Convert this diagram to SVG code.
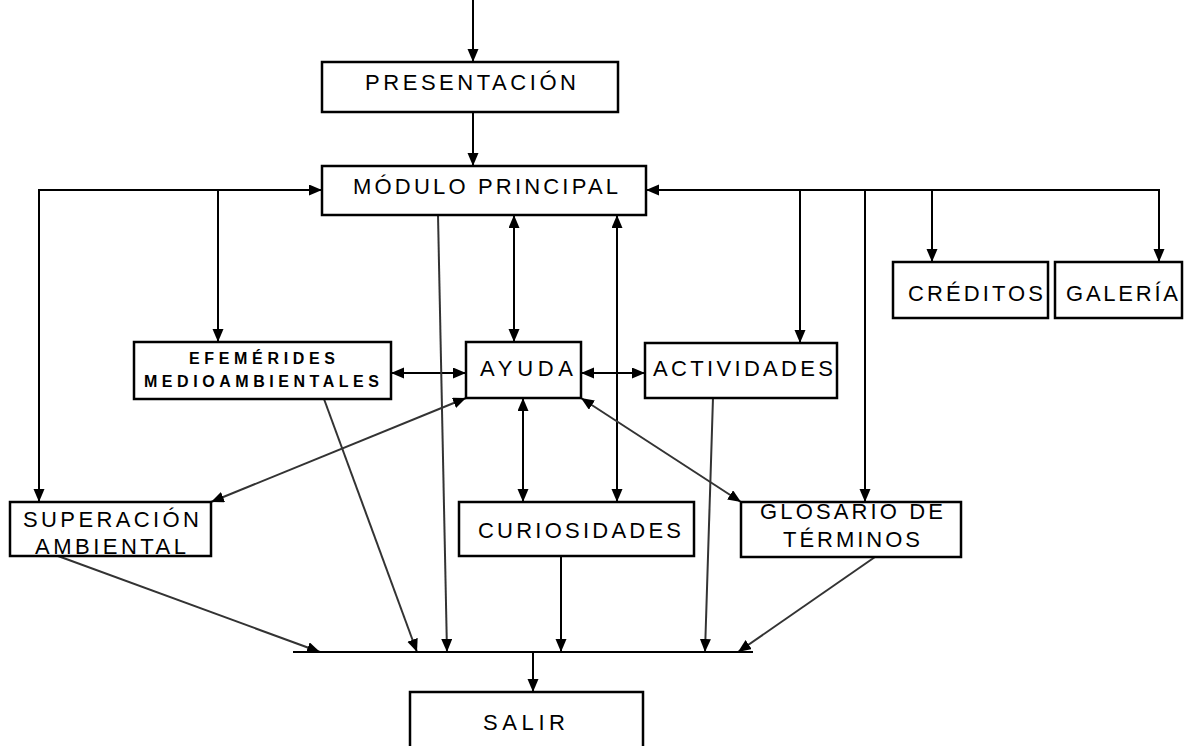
<svg xmlns="http://www.w3.org/2000/svg" width="1184" height="746" viewBox="0 0 1184 746">
<style>
.box{fill:#fff;stroke:#000;stroke-width:2.5}
.t{font-family:"Liberation Sans",Arial,sans-serif;font-size:22px;fill:#000}
.tb{font-family:"Liberation Sans",Arial,sans-serif;font-size:16px;font-weight:bold;fill:#000}
.c line,.c path{stroke:#000;stroke-width:2;fill:none}
.c .g{stroke:#333}
.e{marker-end:url(#ah)}
.b{marker-end:url(#ah);marker-start:url(#ah)}
</style>
<defs>
<marker id="ah" markerUnits="userSpaceOnUse" markerWidth="14" markerHeight="12" refX="13" refY="5.5" orient="auto-start-reverse">
<path d="M0,0 L13,5.5 L0,11 z" fill="#000"/>
</marker>
</defs>
<rect width="1184" height="746" fill="#fff"/>
<g class="c" id="connectors">
<line class="e" x1="473" y1="0" x2="473" y2="62"/>
<line class="e" x1="473" y1="112" x2="473" y2="166"/>
<line class="e" x1="39" y1="190" x2="39" y2="502"/>
<line class="e" x1="38" y1="190" x2="322" y2="190"/>
<line class="e" x1="218" y1="190" x2="218" y2="342"/>
<line class="e" x1="1160" y1="190" x2="646" y2="190"/>
<line class="e" x1="1159" y1="189" x2="1159" y2="262"/>
<line class="e" x1="800" y1="190" x2="800" y2="343"/>
<line x1="865" y1="190" x2="865" y2="502" class="e"/>
<line class="e" x1="932" y1="190" x2="932" y2="262"/>
<line class="b" x1="514" y1="215" x2="514" y2="342"/>
<line class="b" x1="617" y1="215" x2="617" y2="502"/>
<line class="b" x1="391" y1="373" x2="466" y2="373"/>
<line class="b" x1="581" y1="373" x2="645" y2="373"/>
<line class="b g" x1="466" y1="398" x2="211" y2="502"/>
<line class="b" x1="523" y1="398" x2="523" y2="502"/>
<line class="b g" x1="581" y1="398" x2="741" y2="502"/>
<line class="e g" x1="58" y1="556" x2="320" y2="652"/>
<line class="e g" x1="324" y1="399" x2="417" y2="652"/>
<line class="e g" x1="438" y1="215" x2="447" y2="652"/>
<line class="e" x1="561" y1="556" x2="561" y2="652"/>
<line class="e g" x1="713" y1="398" x2="705" y2="652"/>
<line class="e g" x1="875" y1="557" x2="738" y2="652"/>
<line x1="293" y1="652" x2="753" y2="652"/>
<line class="e" x1="533" y1="652" x2="533" y2="692"/>
</g>
<g id="presentacion"><rect class="box" x="322" y="62" width="296" height="50"/><text class="t" x="365" y="90" textLength="211" lengthAdjust="spacing">PRESENTACIÓN</text></g>
<g id="modulo"><rect class="box" x="322" y="166" width="324" height="49"/><text class="t" x="353" y="194" textLength="265" lengthAdjust="spacing">MÓDULO PRINCIPAL</text></g>
<g id="creditos"><rect class="box" x="893" y="262" width="155" height="56"/><text class="t" x="908" y="301" textLength="135" lengthAdjust="spacing">CRÉDITOS</text></g>
<g id="galeria"><rect class="box" x="1055" y="262" width="127" height="56"/><text class="t" x="1066" y="301" textLength="112" lengthAdjust="spacing">GALERÍA</text></g>
<g id="efemerides"><rect class="box" x="134" y="342" width="257" height="57"/><text class="tb" x="189" y="364" textLength="146" lengthAdjust="spacing">EFEMÉRIDES</text><text class="tb" x="144" y="387" textLength="235" lengthAdjust="spacing">MEDIOAMBIENTALES</text></g>
<g id="ayuda"><rect class="box" x="466" y="342" width="115" height="56"/><text class="t" x="480" y="376" textLength="93" lengthAdjust="spacing">AYUDA</text></g>
<g id="actividades"><rect class="box" x="645" y="343" width="192" height="55"/><text class="t" x="653" y="376" textLength="180" lengthAdjust="spacing">ACTIVIDADES</text></g>
<g id="superacion"><rect class="box" x="10" y="502" width="201" height="54"/><text class="t" x="23" y="527" textLength="176" lengthAdjust="spacing">SUPERACIÓN</text><text class="t" x="35" y="554" textLength="151" lengthAdjust="spacing">AMBIENTAL</text></g>
<g id="curiosidades"><rect class="box" x="459" y="502" width="235" height="54"/><text class="t" x="478" y="538" textLength="203" lengthAdjust="spacing">CURIOSIDADES</text></g>
<g id="glosario"><rect class="box" x="741" y="502" width="220" height="55"/><text class="t" x="760" y="519" textLength="183" lengthAdjust="spacing">GLOSARIO DE</text><text class="t" x="783" y="547" textLength="137" lengthAdjust="spacing">TÉRMINOS</text></g>
<g id="salir"><rect class="box" x="410" y="692" width="233" height="70"/><text class="t" x="483" y="730" textLength="82" lengthAdjust="spacing">SALIR</text></g>
</svg>
